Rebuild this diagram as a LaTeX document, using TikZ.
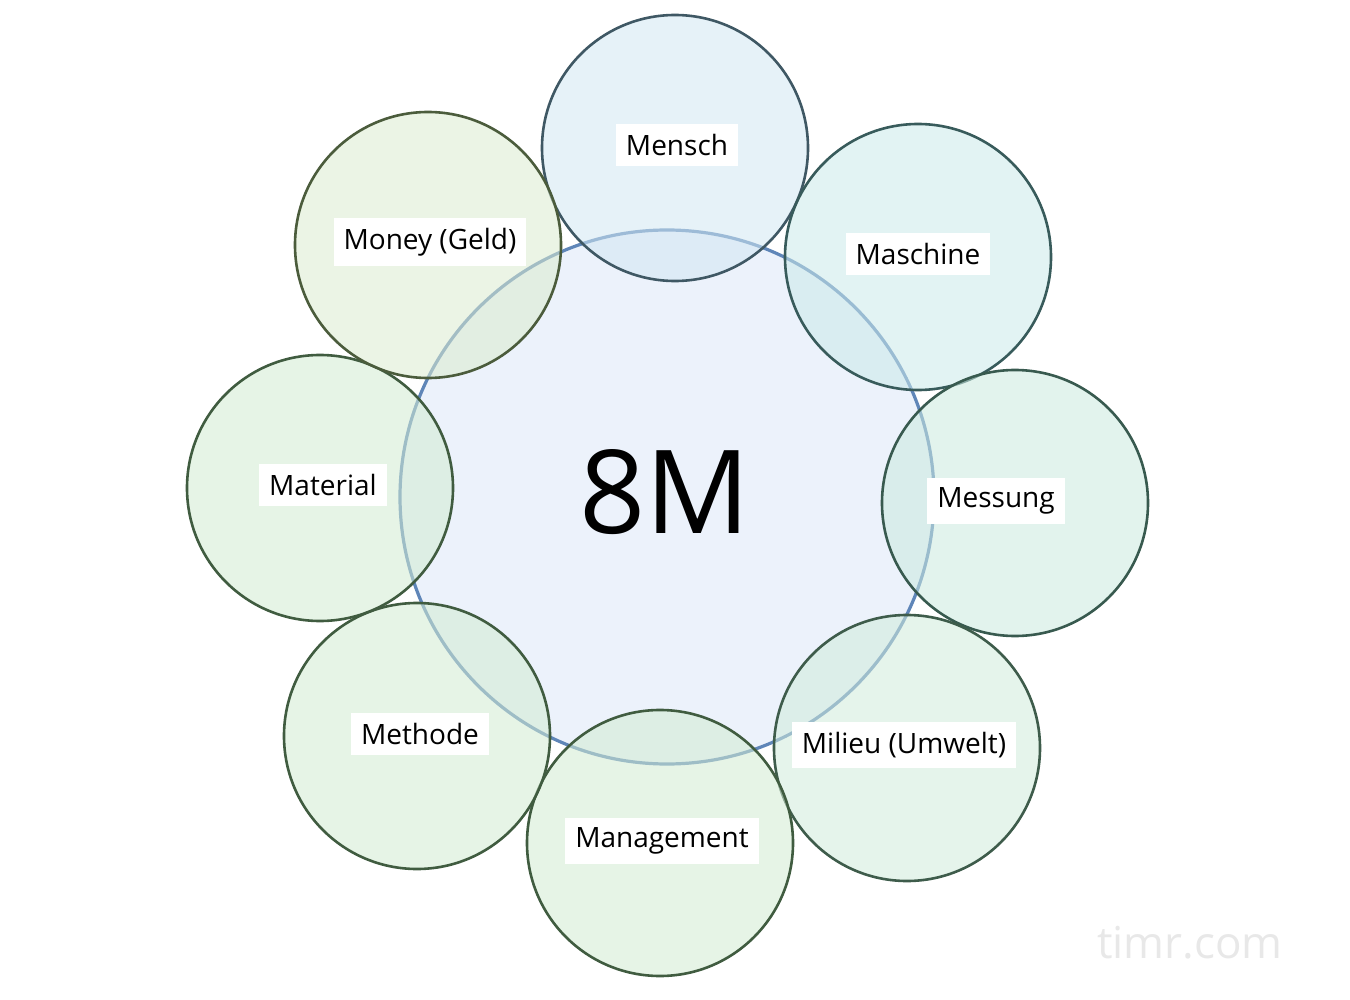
\documentclass[tikz,border=0pt]{standalone}
\usepackage{fontspec}
\setmainfont{Open Sans}
\begin{document}
\begin{tikzpicture}[x=0.5pt,y=-0.5pt,
  sat/.style={circle,draw=#1!45!black,line width=1.3pt,fill=#1!40!white,fill opacity=0.55,minimum size=133pt,inner sep=0pt},
  lbl/.style={fill=white,inner sep=5pt,font=\fontsize{14}{16}\selectfont}]
\useasboundingbox (0,0) rectangle (1350,1000);
\definecolor{cblue}{HTML}{8CC4DE}
\definecolor{cteal}{HTML}{7CCBCB}
\definecolor{ctg}{HTML}{7CC8B0}
\definecolor{cgt}{HTML}{8ACDA6}
\definecolor{cgreen}{HTML}{8FCC8F}
\definecolor{colive}{HTML}{A6CC86}
\definecolor{cstroke}{HTML}{5F86B8}
\node[circle,draw=cstroke,line width=1.6pt,fill={rgb,255:red,236;green,242;blue,251},minimum size=267pt] (c) at (667,497) {};
\node[sat=cblue] (s1) at (675,148) {};
\node[sat=cteal] (s2) at (918,257) {};
\node[sat=ctg] (s3) at (1015,503) {};
\node[sat=cgt] (s4) at (907,748) {};
\node[sat=cgreen] (s5) at (660,843) {};
\node[sat=cgreen] (s6) at (417,736) {};
\node[sat=cgreen] (s7) at (320,488) {};
\node[sat=colive] (s8) at (428,245) {};
\node[font=\fontsize{58}{66}\selectfont] (t) at (665,492) {8M};
\node[lbl] (l1) at (677,145) {Mensch};
\node[lbl] (l2) at (918,254) {Maschine};
\node[lbl] (l3) at (996,501) {Messung};
\node[lbl] (l4) at (904,745) {Milieu (Umwelt)};
\node[lbl] (l5) at (662,841) {Management};
\node[lbl] (l6) at (420,734) {Methode};
\node[lbl] (l7) at (323,485) {Material};
\node[lbl] (l8) at (430,242) {Money (Geld)};
\node[text=gray!18,font=\fontsize{22}{24}\selectfont] (w) at (1190,943) {timr.com};
\end{tikzpicture}
\end{document}
